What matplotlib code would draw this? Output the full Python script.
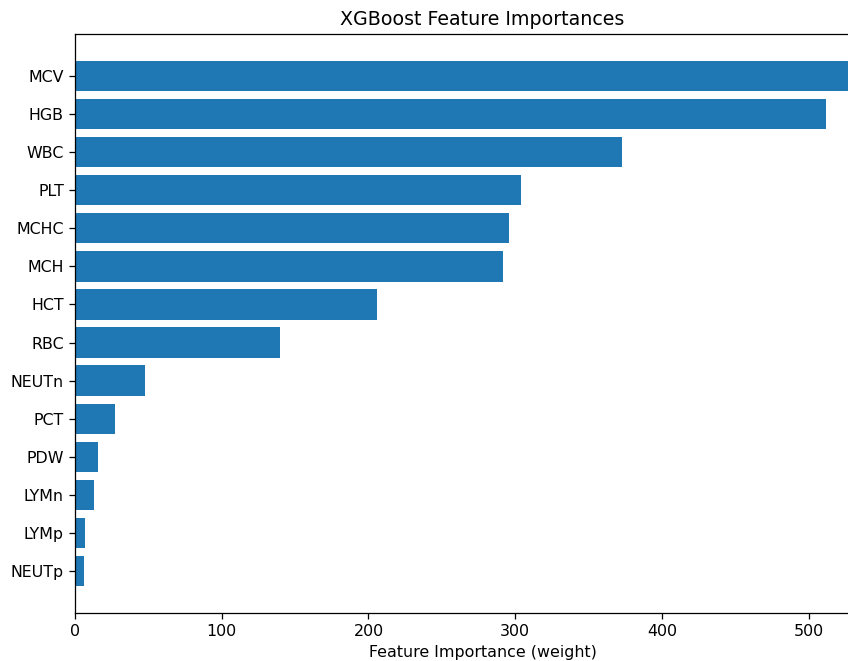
import matplotlib
matplotlib.use("Agg")
import matplotlib.pyplot as plt

features = ["MCV", "HGB", "WBC", "PLT", "MCHC", "MCH", "HCT", "RBC",
            "NEUTn", "PCT", "PDW", "LYMn", "LYMp", "NEUTp"]
weights = [529, 512, 373, 304, 296, 292, 206, 140, 48, 27, 16, 13, 7, 6]

# smallest at the bottom
features = features[::-1]
weights = weights[::-1]

W, H = 848, 661
DPI = 114
fig = plt.figure(figsize=(W / DPI, H / DPI), dpi=DPI)
# the reference is cut off on the right, so the axes run past the figure edge
ax = fig.add_axes([75 / W, (H - 612.7) / H, 815 / W, 578.4 / H])

ax.barh(features, weights, color="#1f77b4")
ax.set_title("XGBoost Feature Importances")
ax.set_xlabel("Feature Importance (weight)")

fig.savefig("out.png", dpi=DPI)
